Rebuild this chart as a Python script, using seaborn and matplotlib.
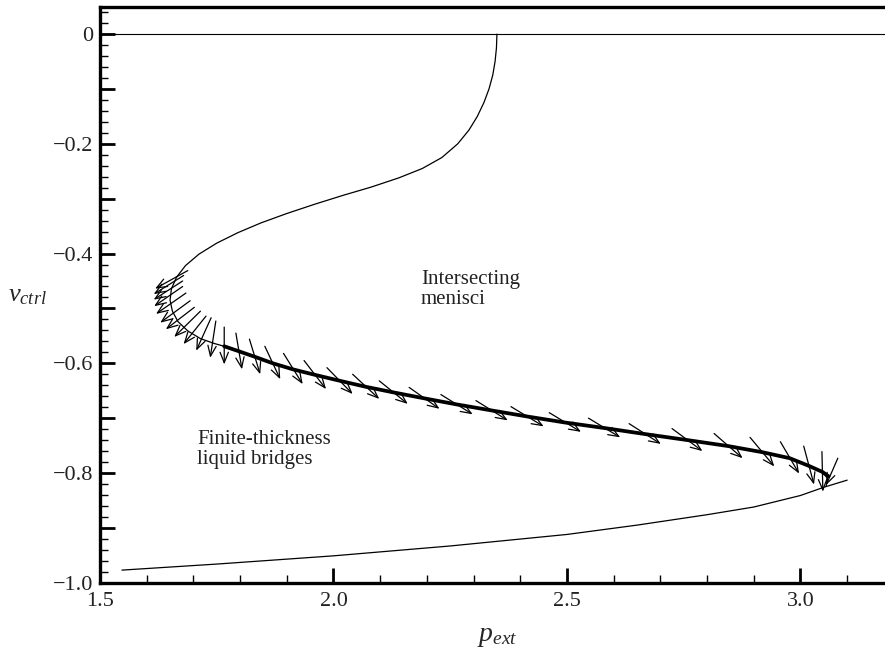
import numpy as np
import pandas as pd
import matplotlib
matplotlib.use("Agg")
import matplotlib.pyplot as plt
from matplotlib.ticker import MultipleLocator, FuncFormatter
import seaborn as sns

# === data ===

# thin S-shaped branch: top -> knee -> middle branch -> turn near p=3.06
s_p = [2.350, 2.349, 2.346, 2.341, 2.333, 2.322, 2.308, 2.290, 2.266, 2.232,
       2.190, 2.140, 2.080, 2.020, 1.960, 1.900, 1.845, 1.795, 1.750, 1.712,
       1.683, 1.664, 1.653, 1.650, 1.655, 1.667, 1.688, 1.715, 1.745, 1.766,
       1.797, 1.831, 1.870, 1.913, 1.960, 2.014, 2.070, 2.128, 2.195, 2.264,
       2.339, 2.415, 2.496, 2.580, 2.667, 2.758, 2.846, 2.918, 2.977, 3.018,
       3.047, 3.058, 3.055]
s_v = [0.000, -0.025, -0.050, -0.075, -0.100, -0.125, -0.150, -0.175, -0.200, -0.225,
       -0.245, -0.262, -0.279, -0.294, -0.310, -0.327, -0.344, -0.362, -0.381, -0.401,
       -0.422, -0.443, -0.464, -0.485, -0.505, -0.524, -0.541, -0.555, -0.564, -0.569,
       -0.578, -0.588, -0.600, -0.611, -0.621, -0.632, -0.643, -0.653, -0.664, -0.675,
       -0.686, -0.697, -0.708, -0.718, -0.729, -0.740, -0.751, -0.762, -0.773, -0.787,
       -0.798, -0.810, -0.824]

# thick (stable) part of the middle branch
thick_p = [1.766, 1.797, 1.831, 1.870, 1.913, 1.960, 2.014, 2.070, 2.128, 2.195,
           2.264, 2.339, 2.415, 2.496, 2.580, 2.667, 2.758, 2.846, 2.918, 2.977,
           3.018, 3.047, 3.060]
thick_v = [-0.569, -0.578, -0.588, -0.600, -0.611, -0.621, -0.632, -0.643, -0.653, -0.664,
           -0.675, -0.686, -0.697, -0.708, -0.718, -0.729, -0.740, -0.751, -0.762, -0.773,
           -0.787, -0.798, -0.806]

# lower branch
low_p = [1.547, 1.750, 2.000, 2.250, 2.500, 2.650, 2.800, 2.900, 3.000, 3.050, 3.100]
low_v = [-0.977, -0.966, -0.951, -0.933, -0.912, -0.895, -0.876, -0.862, -0.841, -0.826, -0.813]

# arrows: tail position and components
arr_p = [1.688, 1.679, 1.677, 1.677, 1.684, 1.693, 1.702, 1.715, 1.727, 1.738,
         1.748, 1.766, 1.791, 1.820, 1.853, 1.893, 1.937, 1.986, 2.041, 2.098,
         2.162, 2.230, 2.305, 2.380, 2.462, 2.546, 2.633, 2.725, 2.815, 2.892,
         2.957, 3.007, 3.046, 3.080]
arr_v = [-0.431, -0.440, -0.450, -0.460, -0.472, -0.486, -0.498, -0.505, -0.514, -0.517,
         -0.523, -0.534, -0.545, -0.556, -0.569, -0.582, -0.595, -0.608, -0.620, -0.632,
         -0.644, -0.657, -0.668, -0.679, -0.690, -0.700, -0.710, -0.719, -0.728, -0.735,
         -0.743, -0.751, -0.761, -0.773]
arr_du = [-0.070, -0.064, -0.062, -0.061, -0.064, -0.064, -0.061, -0.056, -0.048, -0.032,
          -0.012, 0.000, 0.013, 0.023, 0.033, 0.041, 0.047, 0.055, 0.057, 0.061,
          0.065, 0.068, 0.068, 0.070, 0.068, 0.068, 0.068, 0.065, 0.061, 0.052,
          0.040, 0.022, 0.002, -0.025]
arr_dv = [-0.033, -0.034, -0.034, -0.036, -0.038, -0.040, -0.040, -0.047, -0.051, -0.060,
          -0.067, -0.068, -0.066, -0.064, -0.060, -0.056, -0.052, -0.048, -0.045, -0.042,
          -0.039, -0.036, -0.036, -0.036, -0.035, -0.035, -0.037, -0.041, -0.045, -0.053,
          -0.058, -0.070, -0.073, -0.049]

region_labels = ["Intersecting\nmenisci", "Finite-thickness\nliquid bridges"]
region_p = [2.187, 1.708]
region_v = [-0.466, -0.757]

# === plot ===
sns.set_theme(style="ticks")
plt.rcParams["font.family"] = ["Liberation Serif", "DejaVu Serif"]
plt.rcParams["mathtext.fontset"] = "custom"
plt.rcParams["mathtext.rm"] = "Liberation Serif"
plt.rcParams["mathtext.it"] = "Liberation Serif:italic"

fig = plt.figure(figsize=(8.85, 6.5), dpi=100)
ax = fig.add_axes([0.113, 0.1035, 0.897, 0.8862])

ax.axhline(0, color="black", lw=0.8)

s_df = pd.DataFrame({"p": s_p, "v": s_v})
thick_df = pd.DataFrame({"p": thick_p, "v": thick_v})
low_df = pd.DataFrame({"p": low_p, "v": low_v})
sns.lineplot(data=s_df, x="p", y="v", sort=False, estimator=None, color="black", lw=0.9, ax=ax)
sns.lineplot(data=low_df, x="p", y="v", sort=False, estimator=None, color="black", lw=0.9, ax=ax)
sns.lineplot(data=thick_df, x="p", y="v", sort=False, estimator=None, color="black", lw=2.7, ax=ax)

for x0, y0, du, dv in zip(arr_p, arr_v, arr_du, arr_dv):
    ax.annotate("", xy=(x0 + du, y0 + dv), xytext=(x0, y0),
                arrowprops=dict(arrowstyle="->,head_length=0.75,head_width=0.3",
                                lw=0.9, color="black", shrinkA=0, shrinkB=0,
                                mutation_scale=10))

for txt, x0, y0 in zip(region_labels, region_p, region_v):
    ax.text(x0, y0, txt, ha="left", va="center", fontsize=15, linespacing=1.1,
            color="#222222")

ax.set_xlim(1.5, 3.2)
ax.set_ylim(-1.0, 0.05)

ax.xaxis.set_major_locator(MultipleLocator(0.5))
ax.xaxis.set_minor_locator(MultipleLocator(0.1))
ax.yaxis.set_major_locator(MultipleLocator(0.1))
ax.yaxis.set_minor_locator(MultipleLocator(0.02))


def ylab(v, pos):
    k = int(round(v * 10))
    if k % 2 != 0:
        return ""
    if k == 0:
        return "0"
    return "\u2212" + f"{abs(v):.1f}"


ax.yaxis.set_major_formatter(FuncFormatter(ylab))
ax.xaxis.set_major_formatter(FuncFormatter(lambda v, pos: f"{v:.1f}"))

ax.tick_params(axis="both", which="major", direction="in", length=10.5, width=2,
               labelsize=16, color="black", labelcolor="#222222")
ax.tick_params(axis="both", which="minor", direction="in", length=5.8, width=1,
               color="black")
ax.tick_params(axis="x", which="major", pad=7)
ax.tick_params(axis="y", which="major", pad=5)

for side in ["left", "bottom", "top"]:
    ax.spines[side].set_linewidth(2.4)
    ax.spines[side].set_color("black")
ax.spines["right"].set_visible(False)

ax.set_xlabel(r"$p_{ext}$", fontsize=20, va="center")
ax.set_ylabel(r"$v_{ctrl}$", fontsize=19, rotation=0, va="center")
ax.xaxis.set_label_coords(0.5, -0.093)
ax.yaxis.set_label_coords(-0.091, 0.497)

fig.savefig("out.png", dpi=100)
